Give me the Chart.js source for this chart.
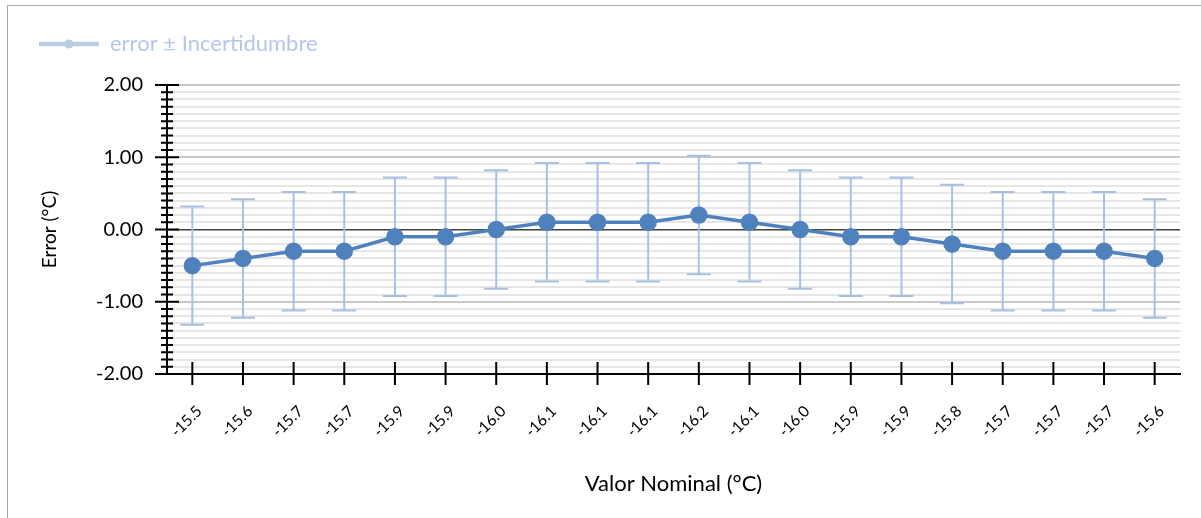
<!DOCTYPE html>
<html>
<head>
<meta charset="utf-8">
<script src="https://cdn.jsdelivr.net/npm/chart.js@4/dist/chart.umd.min.js"></script>
<style>
  html, body { margin: 0; padding: 0; background: #fff; overflow: hidden; }
  #frame { position: absolute; left: 7px; top: 5px; width: 1400px; height: 700px; border-left: 1px solid #a6a6a6; border-top: 1px solid #a6a6a6; }
  #wrap { position: absolute; left: 0; top: 0; width: 1201px; height: 518px; }
</style>
</head>
<body>
<div id="frame"></div>
<div id="wrap"><canvas id="chart"></canvas></div>
<script>
// values
const nominalLabels = ['-15.5', '-15.6', '-15.7', '-15.7', '-15.9', '-15.9', '-16.0', '-16.1', '-16.1', '-16.1',
                       '-16.2', '-16.1', '-16.0', '-15.9', '-15.9', '-15.8', '-15.7', '-15.7', '-15.7', '-15.6'];
const errorValues = [-0.5, -0.4, -0.3, -0.3, -0.1, -0.1, 0.0, 0.1, 0.1, 0.1,
                     0.2, 0.1, 0.0, -0.1, -0.1, -0.2, -0.3, -0.3, -0.3, -0.4];
const uncertainty = [0.82, 0.82, 0.82, 0.82, 0.82, 0.82, 0.82, 0.82, 0.82, 0.82,
                     0.82, 0.82, 0.82, 0.82, 0.82, 0.82, 0.82, 0.82, 0.82, 0.82];
const yTicks = [-2, -1, 0, 1, 2];

const FONT = 'Lato, "Open Sans", sans-serif';
const lineColor = '#4f81bd';
const barColor = '#a7c1e3';

// legend symbol: line - dot - line
const legendIcon = document.createElement('canvas');
legendIcon.width = 60;
legendIcon.height = 12;
(function () {
    const c = legendIcon.getContext('2d');
    c.strokeStyle = '#b9cde6';
    c.fillStyle = '#b9cde6';
    c.lineWidth = 4.5;
    c.beginPath();
    c.moveTo(0, 6); c.lineTo(60, 6);
    c.stroke();
    c.beginPath();
    c.arc(30, 6, 4.5, 0, Math.PI * 2);
    c.fill();
})();

function isMajor(v) {
    return yTicks.some(t => Math.abs(t - v) < 1e-6);
}

// error bars drawn behind the line
const errorBars = {
    id: 'errorBars',
    beforeDatasetsDraw(chart) {
        const ctx = chart.ctx;
        const x = chart.scales.x, y = chart.scales.y;
        ctx.save();
        ctx.strokeStyle = barColor;
        ctx.lineWidth = 2;
        errorValues.forEach((v, i) => {
            const px = x.getPixelForValue(i);
            const top = y.getPixelForValue(v + uncertainty[i]);
            const bot = y.getPixelForValue(v - uncertainty[i]);
            ctx.beginPath();
            ctx.moveTo(px, top); ctx.lineTo(px, bot);
            ctx.moveTo(px - 12, top); ctx.lineTo(px + 12, top);
            ctx.moveTo(px - 12, bot); ctx.lineTo(px + 12, bot);
            ctx.stroke();
        });
        ctx.restore();
    }
};

// cross tick marks on both axes
const axisTicks = {
    id: 'axisTicks',
    afterDatasetsDraw(chart) {
        const ctx = chart.ctx;
        const x = chart.scales.x, y = chart.scales.y;
        const ax = y.right;
        const ay = x.top;
        ctx.save();
        ctx.strokeStyle = '#000';
        ctx.lineWidth = 2;
        ctx.beginPath();
        y.ticks.forEach(t => {
            const py = y.getPixelForValue(t.value);
            const len = isMajor(t.value) ? 12 : 6;
            ctx.moveTo(ax - len, py); ctx.lineTo(ax + len, py);
        });
        nominalLabels.forEach((l, i) => {
            const px = x.getPixelForValue(i);
            ctx.moveTo(px, ay - 12); ctx.lineTo(px, ay + 11);
        });
        ctx.stroke();
        ctx.restore();
    }
};

const legendSpace = {
    id: 'legendSpace',
    beforeInit(chart) {
        const fit = chart.legend.fit;
        chart.legend.fit = function () {
            fit.bind(chart.legend)();
            this.height += 20;
        };
    }
};

new Chart(document.getElementById('chart'), {
    type: 'line',
    data: {
        labels: nominalLabels,
        datasets: [{
            label: 'error ± Incertidumbre',
            data: errorValues,
            borderColor: lineColor,
            backgroundColor: lineColor,
            borderWidth: 3.5,
            pointRadius: 7,
            pointHoverRadius: 7,
            pointStyle: 'circle',
            tension: 0
        }]
    },
    options: {
        responsive: true,
        maintainAspectRatio: false,
        animation: false,
        layout: { padding: { left: 29, right: 21, top: 23, bottom: 0 } },
        plugins: {
            tooltip: { enabled: false },
            legend: {
                position: 'top',
                align: 'start',
                labels: {
                    color: '#b4c7e7',
                    font: { family: FONT, size: 22 },
                    usePointStyle: true,
                    pointStyleWidth: 60,
                    padding: 10,
                    generateLabels: chart => [{
                        text: 'error ± Incertidumbre',
                        pointStyle: legendIcon,
                        fontColor: '#b4c7e7',
                        datasetIndex: 0
                    }]
                }
            }
        },
        scales: {
            x: {
                offset: true,
                grid: { display: false, drawTicks: false },
                border: { display: true, color: '#000', width: 2 },
                ticks: {
                    color: '#000',
                    font: { family: FONT, size: 15.5 },
                    minRotation: 45,
                    maxRotation: 45,
                    padding: 28,
                    labelOffset: 7,
                    autoSkip: false
                },
                title: {
                    display: true,
                    text: 'Valor Nominal (°C)',
                    color: '#000',
                    font: { family: FONT, size: 22 },
                    padding: { top: 0, bottom: 21 }
                },
                afterFit: s => { s.height = 144; }
            },
            y: {
                min: -2,
                max: 2,
                grid: {
                    drawTicks: false,
                    color: c => {
                        const v = c.tick.value;
                        if (Math.abs(v) < 1e-6) return '#404040';
                        return isMajor(v) ? '#c8c8c8' : '#e6e6e6';
                    },
                    lineWidth: c => (Math.abs(c.tick.value) < 1e-6 ? 1.5 : 2)
                },
                border: { display: true, color: '#000', width: 2 },
                ticks: {
                    stepSize: 0.1,
                    autoSkip: false,
                    padding: 24,
                    color: '#000',
                    font: { family: FONT, size: 20 },
                    callback: v => (isMajor(v) ? Number(v).toFixed(2) : '')
                },
                title: {
                    display: true,
                    text: 'Error (°C)',
                    color: '#000',
                    font: { family: FONT, size: 19 },
                    padding: { top: 9, bottom: 0 }
                },
                afterFit: s => { s.width = 138; }
            }
        }
    },
    plugins: [errorBars, axisTicks, legendSpace]
});
</script>
</body>
</html>
